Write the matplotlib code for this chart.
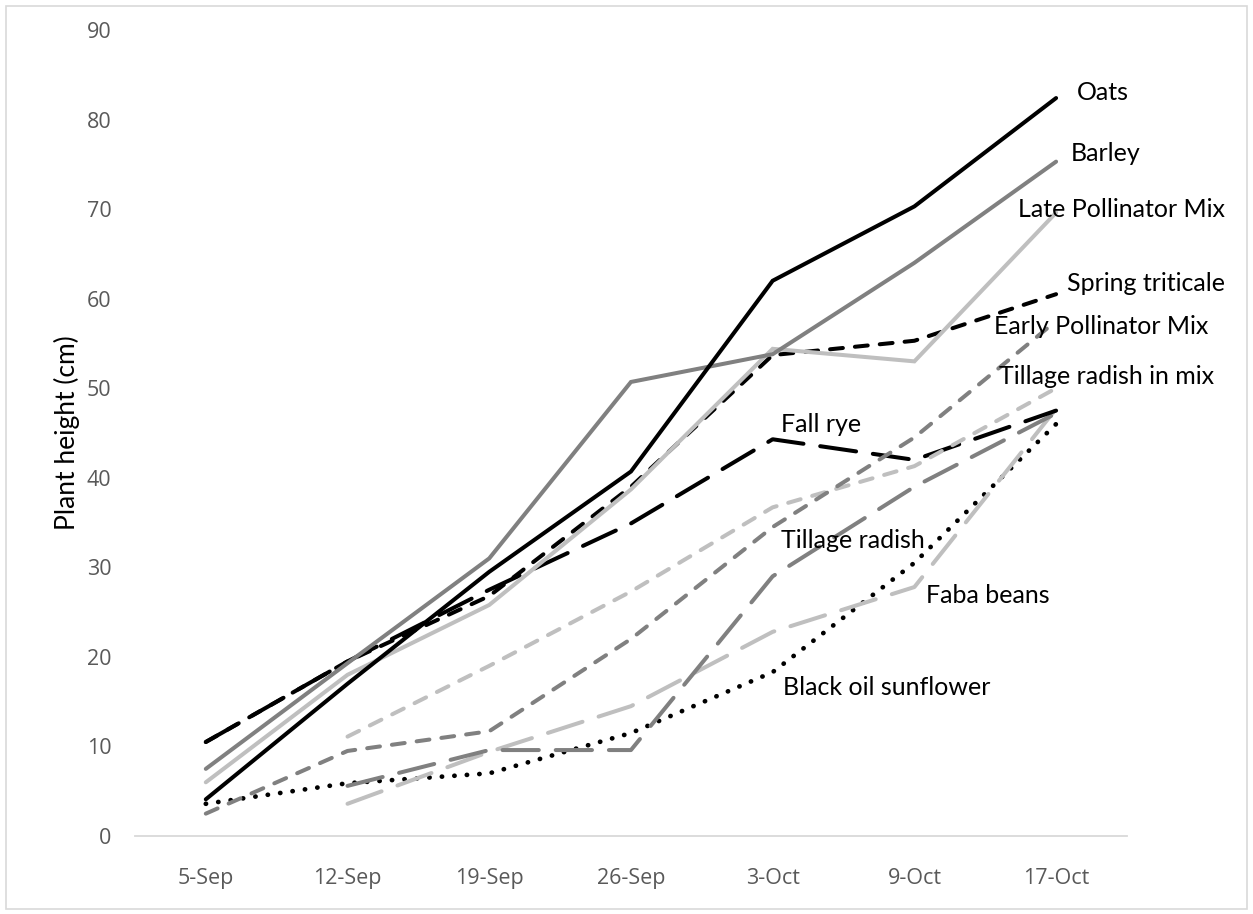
import numpy as np
import matplotlib
matplotlib.use('Agg')
import matplotlib.pyplot as plt
from matplotlib.patches import Rectangle

# data (plant height, cm)
dates = ['5-Sep', '12-Sep', '19-Sep', '26-Sep', '3-Oct', '9-Oct', '17-Oct']
nan = np.nan
oats = [4.1, 17.0, 29.5, 40.7, 62.0, 70.3, 82.4]
barley = [7.5, 19.3, 31.0, 50.7, 53.8, 64.0, 75.3]
late_poll = [6.0, 18.0, 25.8, 38.7, 54.4, 53.0, 69.6]
spring_trit = [10.5, 19.5, 26.8, 39.0, 53.7, 55.3, 60.5]
fall_rye = [10.5, 19.5, 27.5, 34.9, 44.3, 42.0, 47.5]
early_poll = [2.5, 9.5, 11.7, 22.0, 34.5, 44.5, 57.5]
radish_mix = [nan, 11.1, 19.0, 27.3, 36.7, 41.3, 50.0]
radish = [nan, 5.6, 9.6, 9.6, 29.0, 39.0, 47.2]
faba = [nan, 3.6, 9.4, 14.5, 22.8, 27.8, 47.7]
sunflower = [3.6, 5.9, 7.0, 11.5, 18.3, 30.5, 46.0]

BLACK = '#000000'
GRAY = '#808080'
LIGHT = '#bfbfbf'

short = (3.2, 3.0)
long_ = (9.0, 4.2)
dot = (0.05, 2.6)

series = [
    # values, colour, dashes, label, label x, label y
    (oats, BLACK, None, 'Oats', 6.15, 83.0),
    (barley, GRAY, None, 'Barley', 6.10, 76.2),
    (late_poll, LIGHT, None, 'Late Pollinator Mix', 5.73, 70.0),
    (spring_trit, BLACK, short, 'Spring triticale', 6.08, 61.7),
    (early_poll, GRAY, short, 'Early Pollinator Mix', 5.56, 56.9),
    (radish_mix, LIGHT, short, 'Tillage radish in mix', 5.60, 51.3),
    (fall_rye, BLACK, long_, 'Fall rye', 4.06, 46.0),
    (radish, GRAY, long_, 'Tillage radish', 4.06, 33.0),
    (faba, LIGHT, long_, 'Faba beans', 5.08, 26.9),
    (sunflower, BLACK, dot, 'Black oil sunflower', 4.07, 16.6),
]

fig = plt.figure(figsize=(12.53, 9.14), dpi=100)
ax = fig.add_axes([0.1077, 0.0853, 0.7917, 0.8819])
x = np.arange(len(dates))

# draw order: bottom ones first so that solid lines sit on top
for vals, col, dsh, lab, lx, ly in series[::-1]:
    if dsh is None:
        ax.plot(x, vals, color=col, lw=2.9, solid_capstyle='round', solid_joinstyle='miter')
    elif dsh is dot:
        ax.plot(x, vals, color=col, lw=3.4, dashes=dsh, dash_capstyle='round')
    else:
        ax.plot(x, vals, color=col, lw=2.9, dashes=dsh, dash_capstyle='round', dash_joinstyle='round')
    ax.text(lx, ly, lab, fontsize=18, family='Lato', va='center', ha='left', color='black')

ax.set_xlim(-0.5, 6.5)
ax.set_ylim(0, 90)
ax.set_yticks(range(0, 91, 10))
ax.set_xticks(x)
ax.set_xticklabels(dates)
for s in ['top', 'right', 'left']:
    ax.spines[s].set_visible(False)
ax.spines['bottom'].set_color('#d9d9d9')
ax.spines['bottom'].set_linewidth(1.3)
ax.tick_params(length=0, labelsize=15.5, labelcolor='#595959')
ax.tick_params(axis='x', pad=23)
ax.tick_params(axis='y', pad=17)
for t in ax.get_xticklabels() + ax.get_yticklabels():
    t.set_family('Open Sans')
ax.set_ylabel('Plant height (cm)', fontsize=19, family='Lato', labelpad=5)

fig.patches.append(Rectangle((0.005, 0.006), 0.99, 0.987, transform=fig.transFigure,
                             fill=False, edgecolor='#d9d9d9', lw=1.2))

plt.savefig('out.png', dpi=100)
